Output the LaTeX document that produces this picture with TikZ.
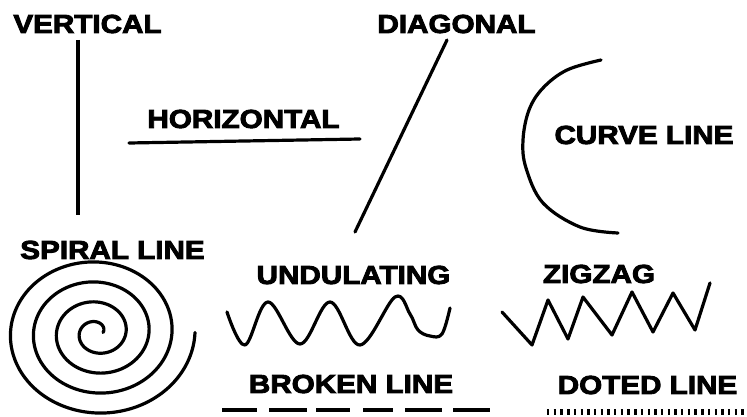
\documentclass[tikz,border=0pt]{standalone}
\usepackage{fontspec}
\newfontfamily\labfont{Liberation Sans}[UprightFont=* Bold, UprightFeatures={FakeBold=3.5}, FakeStretch=1.14]
\begin{document}
\begin{tikzpicture}[x=1pt,y=-1pt,
  lbl/.style={inner sep=0pt, font=\labfont\fontsize{26}{30}\selectfont},
  stroke/.style={line width=3.2pt, line cap=round, line join=round, black}]
\useasboundingbox (0,0) rectangle (747,417);
\fill[white] (0,0) rectangle (747,417);

% labels
\node[lbl] (vertical)   at (87.5,24)  {VERTICAL};
\node[lbl] (diagonal)   at (456.5,24) {DIAGONAL};
\node[lbl] (horizontal) at (243.5,119) {HORIZONTAL};
\node[lbl] (curve)      at (644,135)  {CURVE LINE};
\node[lbl] (spiral)     at (112.5,250) {SPIRAL LINE};
\node[lbl] (undulating) at (353.5,275) {UNDULATING};
\node[lbl] (zigzag)     at (599,274)  {ZIGZAG};
\node[lbl] (broken)     at (351,384)  {BROKEN LINE};
\node[lbl] (doted)      at (647.5,385) {DOTED LINE};

% vertical
\draw[stroke, line cap=butt] (78,40) -- (78,215);
% horizontal
\draw[stroke] (129,143) -- (360,139);
% diagonal
\draw[stroke] (447,40) -- (355,232);
% curve
\draw[stroke] plot[smooth, tension=0.6] coordinates {(601,60) (567,70) (543,88) (529,110) (523,140) (526,168) (543,203) (580,227) (618,233)};
% spiral
\draw[stroke] plot[domain=0:4, samples=400, smooth] ({97+(98-23*\x)*cos(360*\x)}, {332.5+(85.5-20*\x)*sin(360*\x)});
% undulating
\draw[stroke] plot[smooth, tension=0.6] coordinates {(227,312) (245,345) (268,302) (300,344) (330,302) (360,345) (395,297) (410,314) (418,330) (430,336) (442,334) (450,308)};
% zigzag
\draw[stroke] (502,312) -- (532,345) -- (548,300) -- (568,339) -- (583,297) -- (612,335) -- (632,292) -- (653,332) -- (673,293) -- (695,330) -- (710,283);
% broken line
\foreach \a/\b in {222/257, 269/307, 316/350, 363/393, 405/442, 453/490}
  \draw[line width=3.4pt] (\a,410) -- (\b,410);
% dotted line
\draw[line width=6pt, dash pattern=on 2.4pt off 4.3pt] (547,412) -- (747,412);
\end{tikzpicture}
\end{document}
